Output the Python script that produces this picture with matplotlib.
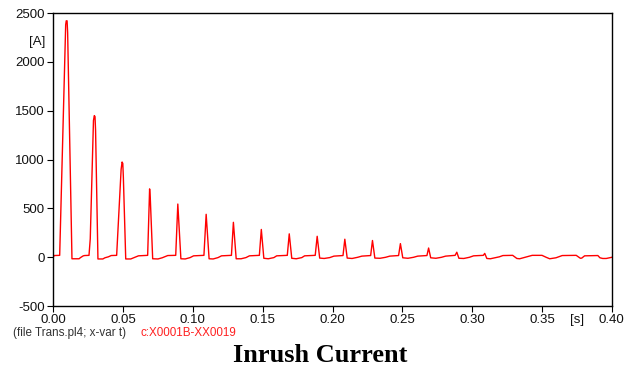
import matplotlib
matplotlib.use("Agg")
import matplotlib.pyplot as plt
import numpy as np

plt.rcParams["axes.unicode_minus"] = False

# ATP trace c:X0001B-XX0019 (time in ms, current in A)
t_ms = [
    0.0, 0.6, 4.6, 8.9, 9.3, 9.9, 10.3, 13.4, 18.5, 19.5, 21.5, 22.5,
    25.6, 26.5, 28.8, 29.4, 29.9, 30.3, 32.0, 35.5, 37.0, 39.5, 41.5, 45.4,
    48.6, 49.3, 49.8, 50.2, 51.9, 55.5, 58.0, 61.0, 66.8,
    67.6, 69.0, 69.5, 71.2, 75.0, 78.0, 80.5, 82.0, 87.7,
    89.2, 91.4, 94.5, 98.0, 100.5, 107.9,
    109.5, 111.6, 114.5, 118.0, 120.5, 127.6,
    129.0, 131.0, 134.5, 138.0, 140.5, 147.6,
    149.0, 150.8, 154.0, 158.0, 160.0, 167.6,
    169.0, 170.8, 174.0, 178.0, 180.0, 187.6,
    189.0, 190.8, 194.0, 198.0, 201.0, 207.5,
    208.8, 210.5, 214.0, 218.0, 221.0, 227.3,
    228.6, 230.3, 234.0, 238.0, 241.0, 247.3,
    248.6, 250.3, 254.0, 258.0, 261.0, 267.6,
    268.8, 270.3, 274.0, 278.0, 281.0, 287.8,
    289.0, 290.5, 294.0, 298.0, 301.0, 308.0,
    309.0, 310.5, 313.0, 319.5, 322.0, 329.0,
    332.0, 334.0, 341.0, 343.0, 350.0, 353.0, 355.5, 360.0, 364.5, 374.5,
    377.5, 378.5, 380.5, 390.0, 391.5, 393.5, 396.0, 400.0,
]
i_amp = [
    0, 18, 20, 2380, 2420, 2420, 2300, -15, -15, -3, 15, 18,
    20, 190, 1400, 1450, 1440, 1300, -17, -17, -5, 5, 18, 20,
    900, 975, 960, 820, -17, -17, -3, 15, 20,
    20, 700, 600, -15, -17, -5, 10, 18, 20,
    545, -15, -17, -3, 15, 20,
    440, -15, -17, -3, 15, 20,
    358, -15, -15, -3, 15, 20,
    285, -10, -15, -3, 15, 20,
    240, -10, -15, -3, 15, 20,
    215, -8, -12, -3, 12, 18,
    185, -8, -12, 0, 12, 18,
    172, -8, -10, 0, 12, 18,
    140, -5, -10, 0, 12, 18,
    95, -5, -10, 0, 12, 20,
    52, -10, -12, 0, 15, 20,
    40, -12, -15, 5, 18, 20,
    -12, -15, 12, 20, 20, 0, -15, -5, 18, 20,
    -10, -8, 15, 18, -5, -12, -12, 0,
]

t = np.array(t_ms) / 1000.0
cur = np.array(i_amp)

fig = plt.figure(figsize=(6.34, 3.72), dpi=100)
ax = fig.add_axes([0.084, 0.177, 0.881, 0.788])

ax.plot(t, cur, color="#ff0000", lw=1.0)

ax.set_xlim(0, 0.40)
ax.set_ylim(-500, 2500)
ax.set_xticks(np.arange(0, 0.401, 0.05))
ax.set_xticklabels(["%.2f" % v for v in np.arange(0, 0.401, 0.05)])
ax.set_yticks([-500, 0, 500, 1000, 1500, 2000, 2500])

lab_font = dict(family="Liberation Sans", size=9.5, color="#111111")
for lbl in ax.get_xticklabels() + ax.get_yticklabels():
    lbl.set_fontfamily("Liberation Sans")
    lbl.set_fontsize(9.5)
    lbl.set_color("#111111")
ax.tick_params(direction="out", length=4, width=0.8, pad=2)
for s in ax.spines.values():
    s.set_linewidth(1.0)

# unit labels
ax.text(-0.006, 2200, "[A]", ha="right", va="center", **lab_font)
ax.text(0.375, -640, "[s]", ha="center", va="center", **lab_font)

fig.text(0.02, 0.105, "(file Trans.pl4; x-var t)", ha="left", va="center",
         family="Liberation Sans", size=8.4, color="#333333")
fig.text(0.221, 0.105, "c:X0001B-XX0019", ha="left", va="center",
         family="Liberation Sans", size=8.4, color="#ff2020")

fig.text(0.505, 0.045, "Inrush Current", ha="center", va="center",
         family="Liberation Serif", weight="bold", size=19)

fig.savefig("out.png", dpi=100)
